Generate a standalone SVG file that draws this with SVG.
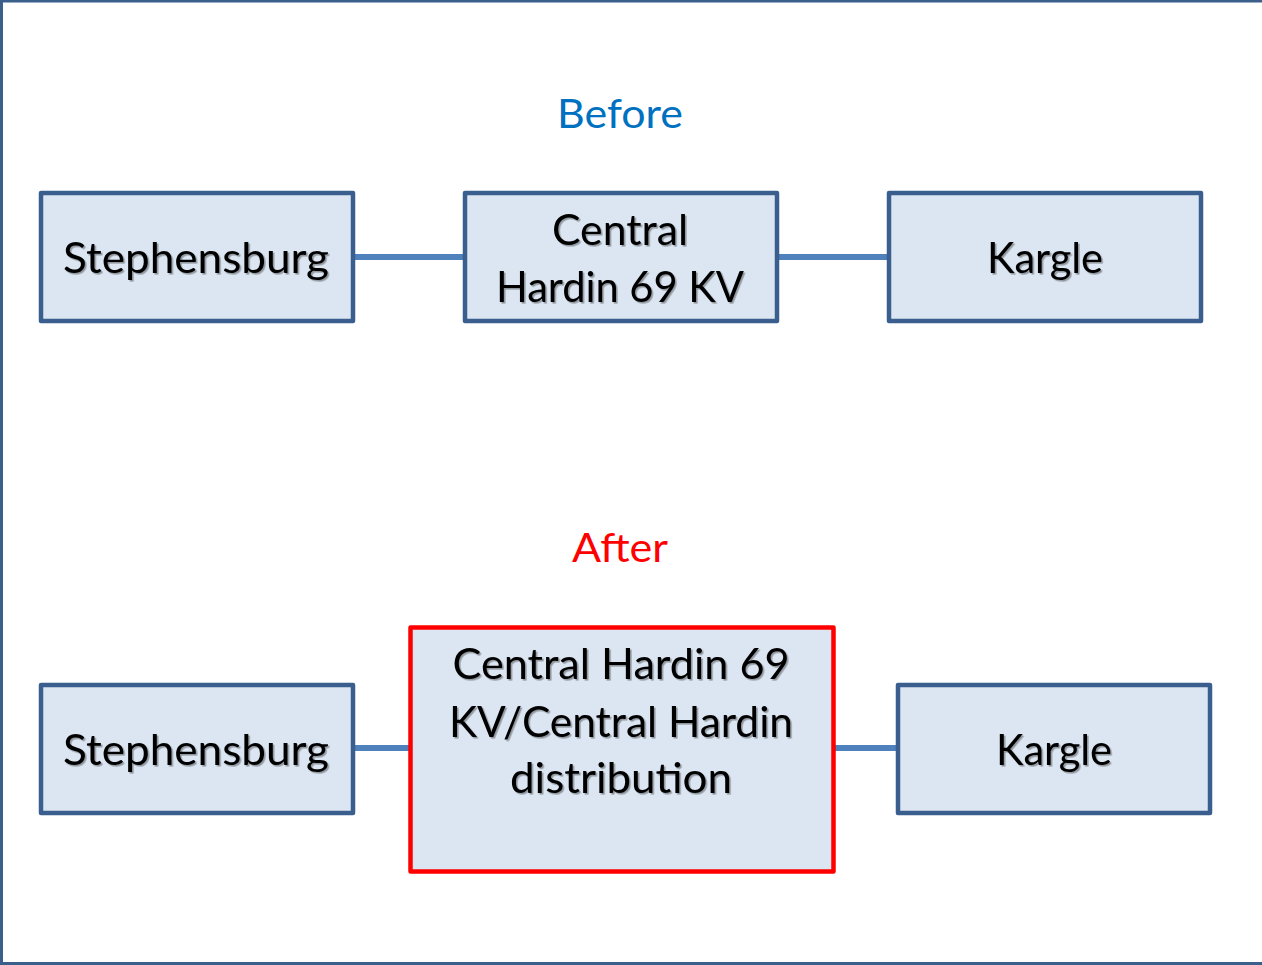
<svg xmlns="http://www.w3.org/2000/svg" width="1262" height="965" viewBox="0 0 1262 965">
<defs>
<filter id="sh" x="-5%" y="-20%" width="110%" height="140%">
<feDropShadow dx="1.6" dy="1.6" stdDeviation="0.6" flood-color="#000" flood-opacity="0.35"/>
</filter>
<style>
.box{fill:#DCE6F2;stroke:#3A5F8E;stroke-width:4.5;stroke-linejoin:round}
.red{fill:#DCE6F2;stroke:#FF0000;stroke-width:4.5;stroke-linejoin:round}
.lbl{font-family:Lato,"Liberation Sans",sans-serif;font-size:42px;fill:#000;text-anchor:middle;filter:url(#sh)}
.title{font-family:Lato,"Liberation Sans",sans-serif;font-size:40px;text-anchor:middle}
.conn{stroke:#4F81BD;stroke-width:6;fill:none}
</style>
</defs>
<rect width="1262" height="965" fill="#fff"/>
<g id="frame" fill="#3A5F8B">
<rect x="0" y="0" width="1262" height="2.5"/>
<rect x="0" y="0" width="3" height="965"/>
<rect x="0" y="962" width="1262" height="3"/>
</g>
<text id="before-title" class="title" x="620" y="128" fill="#0070C0" textLength="126" lengthAdjust="spacingAndGlyphs">Before</text>
<text id="after-title" class="title" x="620" y="562" fill="#FF0000" textLength="96" lengthAdjust="spacingAndGlyphs">After</text>
<g id="connectors">
<line class="conn" x1="354" y1="257" x2="464" y2="257"/>
<line class="conn" x1="778" y1="257" x2="888" y2="257"/>
<line class="conn" x1="354" y1="748" x2="410" y2="748"/>
<line class="conn" x1="834" y1="748" x2="898" y2="748"/>
</g>
<g id="b-stephensburg">
<rect class="box" x="41" y="193" width="312" height="128"/>
<text class="lbl" x="196" y="273" textLength="266" lengthAdjust="spacingAndGlyphs">Stephensburg</text>
</g>
<g id="b-central">
<rect class="box" x="465" y="193" width="312" height="128"/>
<text class="lbl" x="620" y="245" textLength="136" lengthAdjust="spacingAndGlyphs">Central</text>
<text class="lbl" x="620" y="302" textLength="248" lengthAdjust="spacingAndGlyphs">Hardin 69 KV</text>
</g>
<g id="b-kargle">
<rect class="box" x="889" y="193" width="312" height="128"/>
<text class="lbl" x="1045" y="273" textLength="116" lengthAdjust="spacingAndGlyphs">Kargle</text>
</g>
<g id="a-stephensburg">
<rect class="box" x="41" y="685" width="312" height="128"/>
<text class="lbl" x="196" y="765" textLength="266" lengthAdjust="spacingAndGlyphs">Stephensburg</text>
</g>
<g id="a-central">
<rect class="red" x="410.5" y="627.5" width="423" height="244"/>
<text class="lbl" x="621" y="679" textLength="337" lengthAdjust="spacingAndGlyphs">Central Hardin 69</text>
<text class="lbl" x="621" y="737" textLength="344" lengthAdjust="spacingAndGlyphs">KV/Central Hardin</text>
<text class="lbl" x="621" y="793" textLength="222" lengthAdjust="spacingAndGlyphs">distribution</text>
</g>
<g id="a-kargle">
<rect class="box" x="898" y="685" width="312" height="128"/>
<text class="lbl" x="1054" y="765" textLength="116" lengthAdjust="spacingAndGlyphs">Kargle</text>
</g>
</svg>
